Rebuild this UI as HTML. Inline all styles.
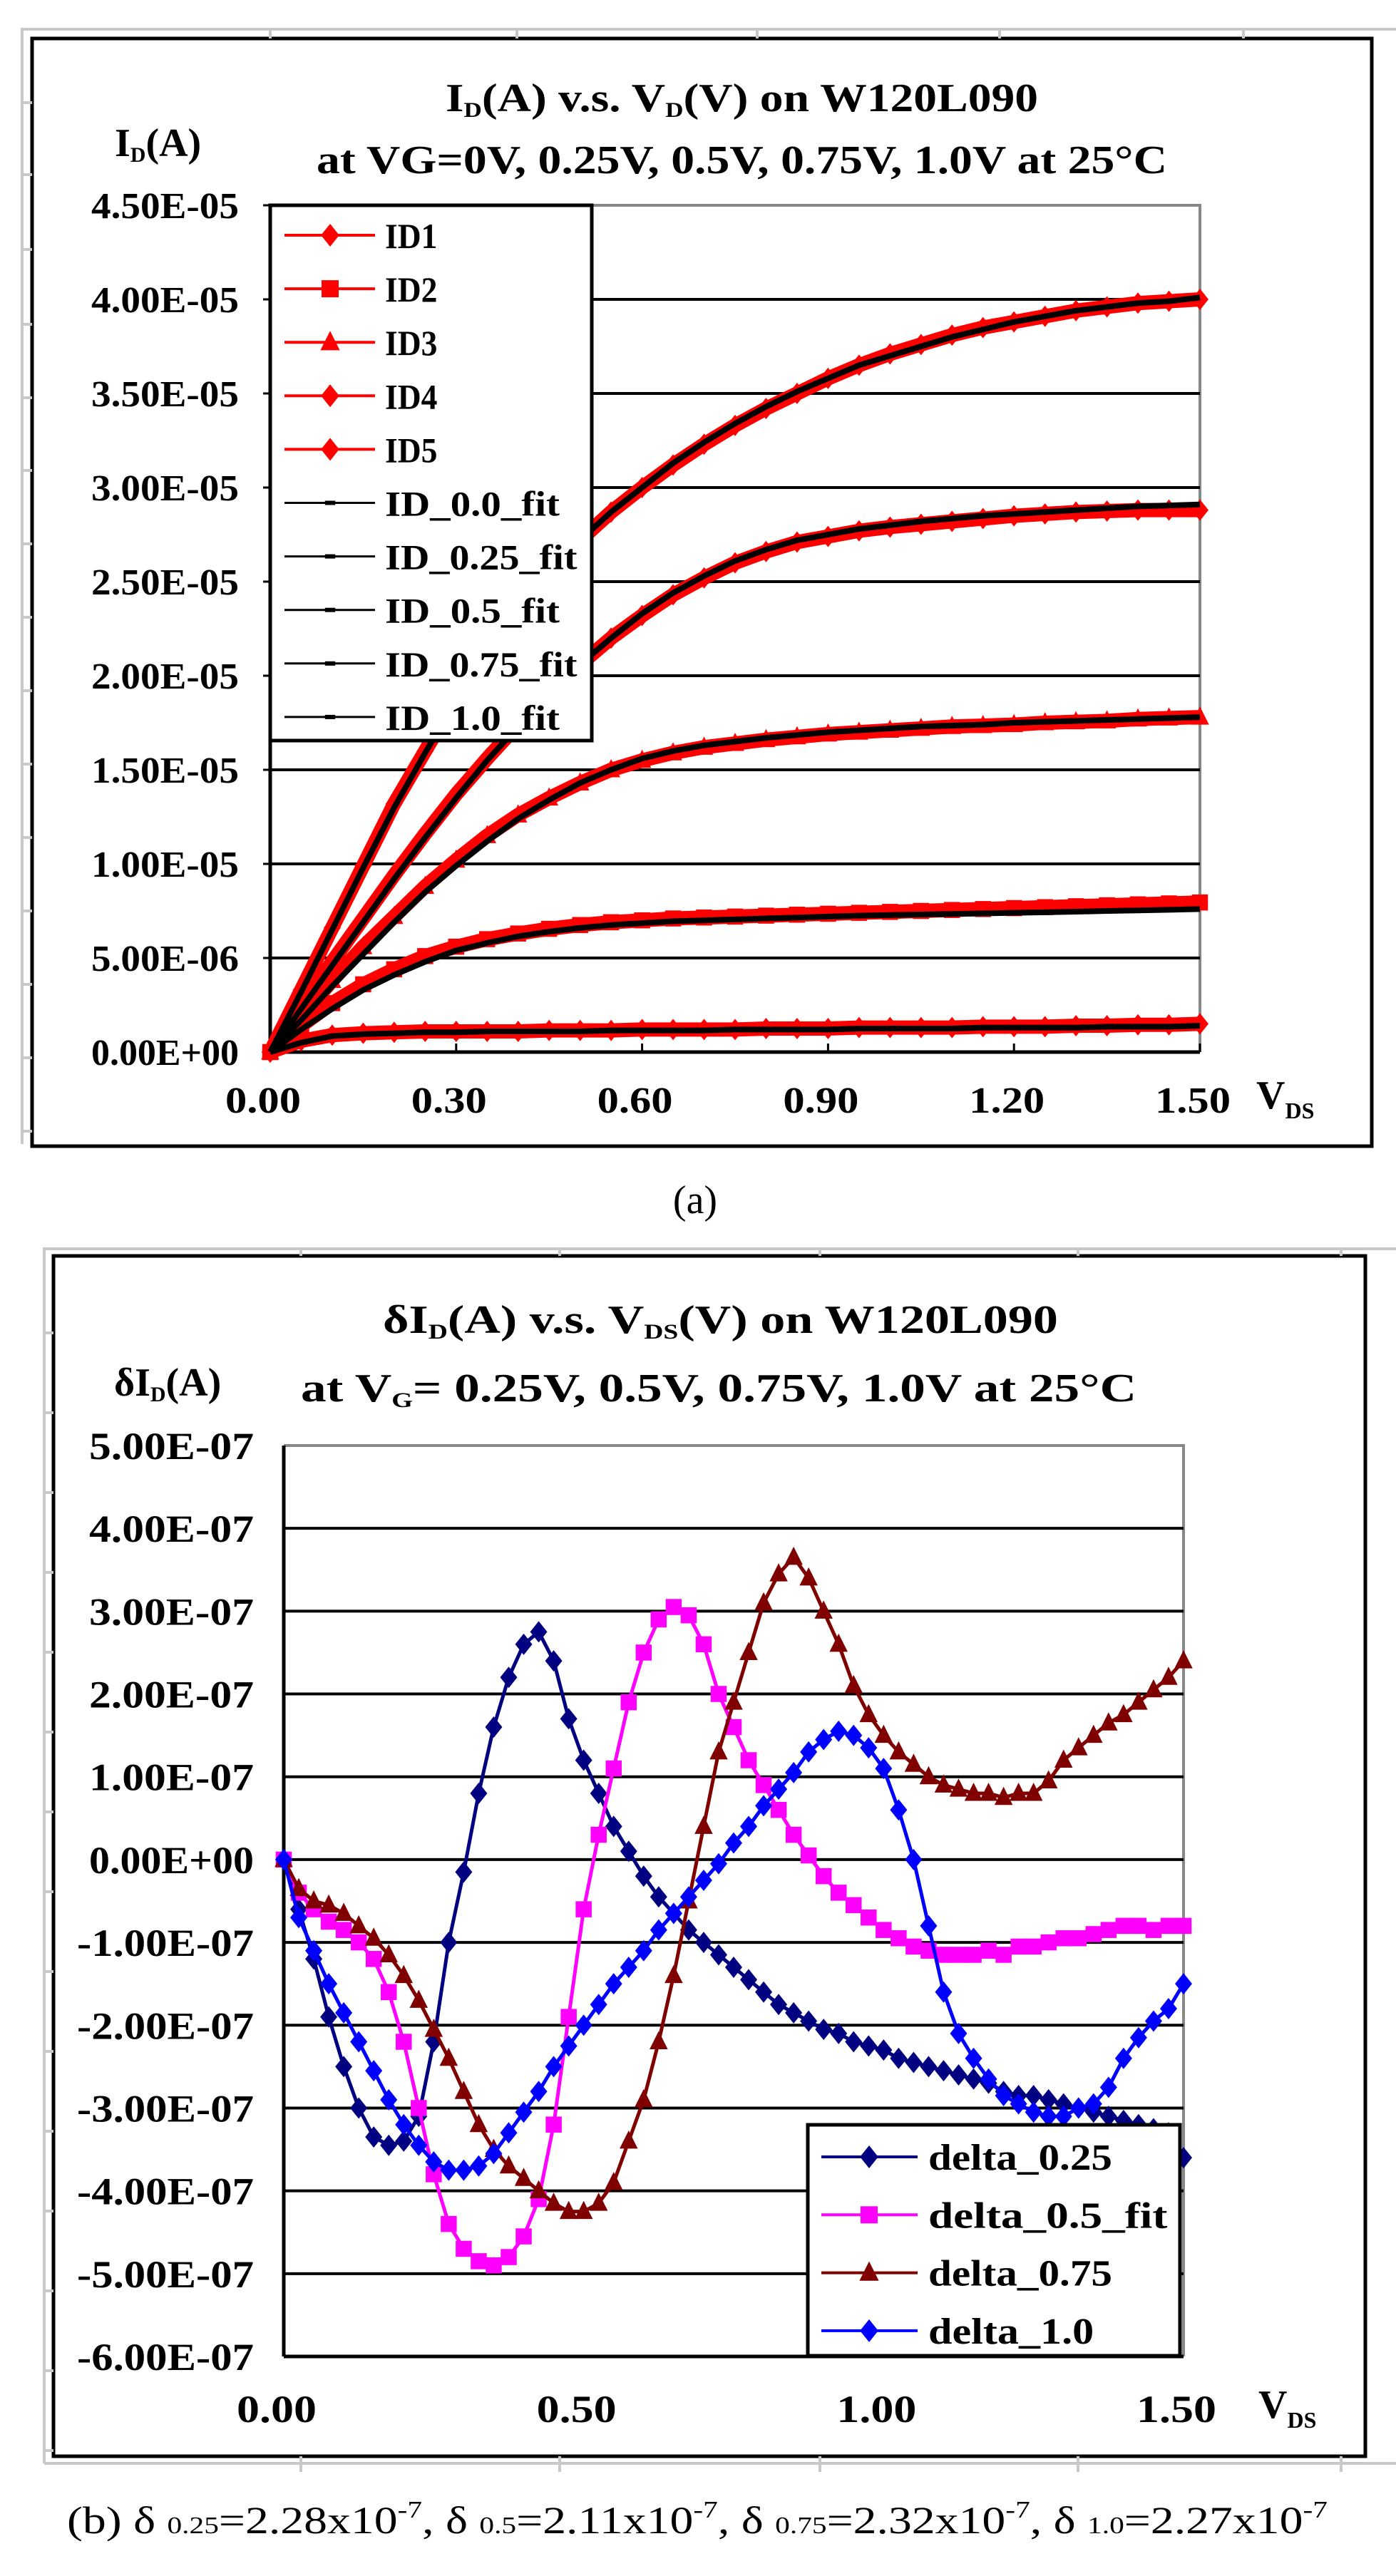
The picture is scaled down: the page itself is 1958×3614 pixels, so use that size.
<!DOCTYPE html>
<html><head><meta charset="utf-8"><style>
html,body{margin:0;padding:0;background:#fff}
svg{display:block}
text{font-family:"Liberation Serif",serif}
.b{font-weight:bold}
</style></head><body>
<svg id="s" width="1958" height="3614" viewBox="0 0 1958 3614" xmlns="http://www.w3.org/2000/svg">
<g id="frames">
<path d="M31 1605 V41 H1958" fill="none" stroke="#c8c8c8" stroke-width="4"/>
<rect x="45" y="54" width="1879" height="1554" fill="#fff" stroke="#000" stroke-width="5"/>
<path d="M62 3456 V1752 H1958 M62 3456 H1958" fill="none" stroke="#c8c8c8" stroke-width="4"/>
<rect x="75" y="1762" width="1840" height="1684" fill="#fff" stroke="#000" stroke-width="5"/>
</g>
<g id="ga"></g>
<g id="gb"></g>
<text x="975" y="1702" font-size="56" text-anchor="middle">(a)</text>
<text x="94" y="3554" font-size="54" textLength="1768" lengthAdjust="spacingAndGlyphs">(b) δ <tspan font-size="34">0.25</tspan>=2.28x10<tspan font-size="34" dy="-22">-7</tspan><tspan dy="22">, δ </tspan><tspan font-size="34">0.5</tspan>=2.11x10<tspan font-size="34" dy="-22">-7</tspan><tspan dy="22">, δ </tspan><tspan font-size="34">0.75</tspan>=2.32x10<tspan font-size="34" dy="-22">-7</tspan><tspan dy="22">, δ </tspan><tspan font-size="34">1.0</tspan>=2.27x10<tspan font-size="34" dy="-22">-7</tspan></text>
</svg>
<script>
// ---------- Chart A data (µA) at VDS = 0..1.5 step 0.05 ----------
const vA = [0,0.05,0.1,0.15,0.2,0.25,0.3,0.35,0.4,0.45,0.5,0.55,0.6,0.65,0.7,0.75,0.8,0.85,0.9,0.95,1.0,1.05,1.1,1.15,1.2,1.25,1.3,1.35,1.4,1.45,1.5];
const id1 = [0,0.6,0.9,1.0,1.05,1.1,1.1,1.1,1.1,1.15,1.15,1.15,1.2,1.2,1.2,1.2,1.25,1.25,1.25,1.3,1.3,1.3,1.3,1.35,1.35,1.35,1.4,1.4,1.45,1.45,1.5];
const id2 = [0,1.4,2.6,3.6,4.4,5.1,5.6,6.0,6.3,6.55,6.75,6.9,7.0,7.1,7.15,7.2,7.25,7.3,7.35,7.4,7.45,7.5,7.55,7.6,7.65,7.7,7.75,7.8,7.85,7.9,7.95];
const id3 = [0,1.9,3.8,5.6,7.2,8.8,10.2,11.5,12.6,13.5,14.3,15.0,15.5,15.9,16.2,16.4,16.6,16.75,16.9,17.0,17.1,17.2,17.3,17.35,17.4,17.5,17.55,17.6,17.7,17.75,17.8];
const id4 = [0,2.4,4.8,7.1,9.4,11.6,13.7,15.6,17.4,19.1,20.6,22.0,23.2,24.3,25.2,26.0,26.6,27.1,27.4,27.7,27.9,28.05,28.2,28.35,28.5,28.6,28.7,28.75,28.8,28.8,28.8];
const id5 = [0,3.3,6.6,9.9,13.2,16.0,18.8,21.3,23.6,25.6,27.2,28.7,30.0,31.2,32.3,33.3,34.2,35.0,35.8,36.5,37.1,37.6,38.1,38.5,38.8,39.1,39.4,39.6,39.8,39.9,40.0];
const fit0 = [0,0.5,0.85,0.95,1.0,1.05,1.05,1.1,1.1,1.1,1.1,1.15,1.15,1.15,1.15,1.2,1.2,1.2,1.2,1.25,1.25,1.25,1.25,1.3,1.3,1.3,1.3,1.35,1.35,1.35,1.4];
const fit25 = [0,1.2,2.3,3.3,4.1,4.8,5.4,5.8,6.15,6.4,6.6,6.75,6.85,6.95,7.0,7.05,7.1,7.15,7.2,7.25,7.28,7.31,7.34,7.37,7.4,7.43,7.46,7.5,7.53,7.56,7.6];
const fit5 = [0,1.7,3.5,5.2,6.9,8.5,9.9,11.2,12.4,13.4,14.3,15.0,15.6,16.0,16.3,16.5,16.7,16.85,17.0,17.1,17.2,17.3,17.35,17.4,17.5,17.55,17.6,17.65,17.7,17.75,17.8];
const fit75 = [0,2.3,4.6,6.9,9.2,11.4,13.5,15.5,17.3,19.0,20.6,22.0,23.3,24.4,25.3,26.1,26.7,27.2,27.5,27.8,28.0,28.2,28.35,28.5,28.6,28.7,28.8,28.9,29.0,29.05,29.1];
const fit10 = [0,3.2,6.5,9.8,13.0,15.9,18.7,21.2,23.5,25.5,27.2,28.7,30.0,31.3,32.4,33.4,34.3,35.1,35.8,36.5,37.0,37.5,38.0,38.4,38.8,39.1,39.4,39.6,39.8,39.9,40.1];
const yTicksA = ["0.00E+00","5.00E-06","1.00E-05","1.50E-05","2.00E-05","2.50E-05","3.00E-05","3.50E-05","4.00E-05","4.50E-05"];
const xTicksA = ["0.00","0.30","0.60","0.90","1.20","1.50"];
const legendA = ["ID1","ID2","ID3","ID4","ID5","ID_0.0_fit","ID_0.25_fit","ID_0.5_fit","ID_0.75_fit","ID_1.0_fit"];

// ---------- Chart B data (×1e-7 A) at VDS = 0..1.5 step 0.025 ----------
const vB = [0,0.025,0.05,0.075,0.1,0.125,0.15,0.175,0.2,0.225,0.25,0.275,0.3,0.325,0.35,0.375,0.4,0.425,0.45,0.475,0.5,0.525,0.55,0.575,0.6,0.625,0.65,0.675,0.7,0.725,0.75,0.775,0.8,0.825,0.85,0.875,0.9,0.925,0.95,0.975,1.0,1.025,1.05,1.075,1.1,1.125,1.15,1.175,1.2,1.225,1.25,1.275,1.3,1.325,1.35,1.375,1.4,1.425,1.45,1.475,1.5];
const d025 = [0,-0.6,-1.2,-1.9,-2.5,-3.0,-3.35,-3.45,-3.4,-3.1,-2.2,-1.0,-0.15,0.8,1.6,2.2,2.6,2.75,2.4,1.7,1.2,0.8,0.4,0.1,-0.2,-0.45,-0.65,-0.85,-1.0,-1.15,-1.3,-1.45,-1.6,-1.75,-1.85,-1.95,-2.05,-2.1,-2.2,-2.25,-2.3,-2.4,-2.45,-2.5,-2.55,-2.6,-2.65,-2.7,-2.8,-2.85,-2.85,-2.9,-2.95,-3.0,-3.05,-3.1,-3.15,-3.2,-3.25,-3.3,-3.6];
const d05 = [0,-0.4,-0.6,-0.75,-0.85,-1.0,-1.2,-1.6,-2.2,-3.0,-3.8,-4.4,-4.7,-4.85,-4.9,-4.8,-4.55,-4.1,-3.2,-1.9,-0.6,0.3,1.1,1.9,2.5,2.9,3.05,2.95,2.6,2.0,1.6,1.2,0.9,0.6,0.3,0.05,-0.2,-0.4,-0.55,-0.7,-0.85,-0.95,-1.05,-1.1,-1.15,-1.15,-1.15,-1.1,-1.15,-1.05,-1.05,-1.0,-0.95,-0.95,-0.9,-0.85,-0.8,-0.8,-0.85,-0.8,-0.8];
const d075 = [0,-0.35,-0.5,-0.55,-0.65,-0.8,-0.95,-1.15,-1.4,-1.7,-2.05,-2.4,-2.8,-3.2,-3.5,-3.7,-3.85,-4.0,-4.15,-4.25,-4.25,-4.15,-3.9,-3.4,-2.9,-2.2,-1.4,-0.5,0.4,1.3,1.9,2.5,3.1,3.45,3.65,3.4,3.0,2.6,2.1,1.75,1.5,1.3,1.15,1.0,0.9,0.85,0.8,0.8,0.75,0.8,0.8,0.95,1.2,1.35,1.5,1.65,1.75,1.9,2.05,2.2,2.4];
const d10 = [0,-0.7,-1.1,-1.5,-1.85,-2.2,-2.55,-2.9,-3.2,-3.45,-3.65,-3.75,-3.75,-3.7,-3.55,-3.3,-3.05,-2.8,-2.5,-2.25,-2.0,-1.75,-1.5,-1.3,-1.1,-0.85,-0.65,-0.45,-0.25,-0.05,0.2,0.4,0.65,0.85,1.05,1.3,1.45,1.55,1.5,1.35,1.1,0.6,0.0,-0.8,-1.6,-2.1,-2.4,-2.65,-2.85,-2.95,-3.05,-3.1,-3.1,-3.0,-2.95,-2.75,-2.4,-2.15,-1.95,-1.8,-1.5];
const yTicksB = ["5.00E-07","4.00E-07","3.00E-07","2.00E-07","1.00E-07","0.00E+00","-1.00E-07","-2.00E-07","-3.00E-07","-4.00E-07","-5.00E-07","-6.00E-07"];
const yTickValsB = [5,4,3,2,1,0,-1,-2,-3,-4,-5,-6];
const xTicksB = ["0.00","0.50","1.00","1.50"];
const legendB = ["delta_0.25","delta_0.5_fit","delta_0.75","delta_1.0"];

const NS = "http://www.w3.org/2000/svg";
function mk(parent, tag, attrs, txt) {
  const e = document.createElementNS(NS, tag);
  for (const k in attrs) e.setAttribute(k, attrs[k]);
  if (txt !== undefined) e.textContent = txt;
  parent.appendChild(e);
  return e;
}
function marker(g, type, x, y, s, color) {
  let e;
  if (type === "diamond") e = mk(g, "polygon", {points: `${x},${y-s} ${x+s*0.8},${y} ${x},${y+s} ${x-s*0.8},${y}`, fill: color});
  else if (type === "square") e = mk(g, "rect", {x: x-s*0.75, y: y-s*0.75, width: s*1.5, height: s*1.5, fill: color});
  else if (type === "triangle") e = mk(g, "polygon", {points: `${x},${y-s} ${x+s*0.85},${y+s*0.7} ${x-s*0.85},${y+s*0.7}`, fill: color});
  else e = mk(g, "rect", {x: x-s*0.6, y: y-s*0.25, width: s*1.2, height: s*0.5, fill: color});
  return e;
}

// ================= Chart A =================
(function(){
  const g = document.getElementById("ga");
  const L = 379, R = 1683, T = 288, B = 1476;
  const xs = v => L + v / 1.5 * (R - L);
  const ys = u => B - u / 45 * (B - T);
  mk(g, "path", {d: `M${L} ${T} H${R} V${B}`, fill: "none", stroke: "#888", "stroke-width": 4});
  for (let i = 1; i <= 8; i++) {
    const gl = mk(g, "line", {x1: L, x2: R, y1: ys(i*5), y2: ys(i*5), stroke: "#000", "stroke-width": 4});
    
    
  }
  mk(g, "line", {x1: L, x2: L, y1: T, y2: B+2, stroke: "#000", "stroke-width": 5});
  mk(g, "line", {x1: L, x2: R, y1: B, y2: B, stroke: "#000", "stroke-width": 5});
  for (let i = 0; i < yTicksA.length; i++) {
    const t = mk(g, "text", {x: 335, y: ys(i*5)+18, "font-size": 52, "font-weight": "bold", "text-anchor": "end", textLength: 207, lengthAdjust: "spacingAndGlyphs"}, yTicksA[i]);
    
    
    mk(g, "line", {x1: L-10, x2: L, y1: ys(i*5), y2: ys(i*5), stroke: "#000", "stroke-width": 3});
  }
  for (let i = 0; i < xTicksA.length; i++) {
    const v = i * 0.3;
    const t = mk(g, "text", {x: xs(v)-10, y: 1561, "font-size": 52, "font-weight": "bold", "text-anchor": "middle", textLength: 106, lengthAdjust: "spacingAndGlyphs"}, xTicksA[i]);
    
    
    mk(g, "line", {x1: xs(v), x2: xs(v), y1: B-12, y2: B, stroke: "#000", "stroke-width": 3});
  }
  const meas = [id1, id2, id3, id4, id5];
  const mtypes = ["diamond","square","triangle","diamond","diamond"];
  meas.forEach((arr, k) => {
    const pts = arr.map((u, i) => `${xs(vA[i])},${ys(u)}`).join(" ");
    const pl = mk(g, "polyline", {points: pts, fill: "none", stroke: "#ff0000", "stroke-width": 20, "stroke-linejoin": "round"});
    
    
    arr.forEach((u, i) => { marker(g, mtypes[k], xs(vA[i]), ys(u), 15, "#ff0000"); });
  });
  const fits = [fit0, fit25, fit5, fit75, fit10];
  fits.forEach((arr, k) => {
    const pts = arr.map((u, i) => `${xs(vA[i])},${ys(u)}`).join(" ");
    const pl = mk(g, "polyline", {points: pts, fill: "none", stroke: "#000", "stroke-width": 8, "stroke-linejoin": "round"});
    
    
  });
  const lg = mk(g, "g", {});
  
  
  mk(lg, "rect", {x: L, y: T, width: 451, height: 751, fill: "#fff", stroke: "#000", "stroke-width": 5});
  legendA.forEach((name, i) => {
    const y = 330 + i * 75.1;
    const red = i < 5;
    const col = red ? "#ff0000" : "#000";
    const en = mk(lg, "g", {});
    
    
    mk(en, "line", {x1: 399, x2: 526, y1: y, y2: y, stroke: col, "stroke-width": red ? 4 : 3});
    if (red) marker(en, mtypes[i], 463, y, 16, col); else marker(en, "dash", 463, y, 12, col);
    mk(en, "text", {x: 540, y: y+18, "font-size": 50, "font-weight": "bold", textLength: (name.length*24.5), lengthAdjust: "spacingAndGlyphs"}, name);
  });
  const t1 = mk(g, "text", {x: 625, y: 156, "font-size": 56, "font-weight": "bold", textLength: 831, lengthAdjust: "spacingAndGlyphs"});
  
  
  t1.innerHTML = 'I<tspan font-size="30" dy="8">D</tspan><tspan dy="-8">(A) v.s. V</tspan><tspan font-size="30" dy="8">D</tspan><tspan dy="-8">(V) on W120L090</tspan>';
  const t2 = mk(g, "text", {x: 444, y: 243, "font-size": 56, "font-weight": "bold", textLength: 1193, lengthAdjust: "spacingAndGlyphs"}, "at VG=0V, 0.25V, 0.5V, 0.75V, 1.0V at 25°C");
  
  
  const yl = mk(g, "text", {x: 161, y: 219, "font-size": 56, "font-weight": "bold"});
  
  
  yl.innerHTML = 'I<tspan font-size="30" dy="8">D</tspan><tspan dy="-8">(A)</tspan>';
  const xl = mk(g, "text", {x: 1762, y: 1555, "font-size": 56, "font-weight": "bold"});
  
  
  xl.innerHTML = 'V<tspan font-size="32" dy="14">DS</tspan>';
})();

// ================= Chart B =================
(function(){
  const g = document.getElementById("gb");
  const L = 398, R = 1660, T = 2028, B = 3306;
  const xs = v => L + v / 1.5 * (R - L);
  const ys = u => T + (5 - u) / 11 * (B - T);
  mk(g, "path", {d: `M${L} ${T} H${R} V${B}`, fill: "none", stroke: "#888", "stroke-width": 4});
  for (let i = 1; i < yTickValsB.length - 1; i++) {
    const gl = mk(g, "line", {x1: L, x2: R, y1: ys(yTickValsB[i]), y2: ys(yTickValsB[i]), stroke: "#000", "stroke-width": 4});
    
    
  }
  mk(g, "line", {x1: L, x2: L, y1: T, y2: B, stroke: "#000", "stroke-width": 5});
  mk(g, "line", {x1: L, x2: R, y1: B, y2: B, stroke: "#000", "stroke-width": 5});
  for (let i = 0; i < yTicksB.length; i++) {
    const neg = yTicksB[i][0] === "-";
    const t = mk(g, "text", {x: 356, y: ys(yTickValsB[i])+19, "font-size": 54, "font-weight": "bold", "text-anchor": "end", textLength: neg ? 248 : 231, lengthAdjust: "spacingAndGlyphs"}, yTicksB[i]);
    
    
  }
  for (let i = 0; i < xTicksB.length; i++) {
    const v = i * 0.5;
    const t = mk(g, "text", {x: xs(v)-10, y: 3398, "font-size": 54, "font-weight": "bold", "text-anchor": "middle", textLength: 112, lengthAdjust: "spacingAndGlyphs"}, xTicksB[i]);
    
    
  }
  const series = [d025, d05, d075, d10];
  const cols = ["#000080", "#ff00ff", "#800000", "#0000ff"];
  const types = ["diamond", "square", "triangle", "diamond"];
  series.forEach((arr, k) => {
    const sg = mk(g, "g", {});
    
    
    mk(sg, "polyline", {points: arr.map((u, i) => `${xs(vB[i])},${ys(u)}`).join(" "), fill: "none", stroke: cols[k], "stroke-width": 5});
    arr.forEach((u, i) => { marker(sg, types[k], xs(vB[i]), ys(u), 15, cols[k]); });
  });
  const lg = mk(g, "g", {});
  
  
  mk(lg, "rect", {x: 1133, y: 2981, width: 522, height: 324, fill: "#fff", stroke: "#000", "stroke-width": 5});
  legendB.forEach((name, i) => {
    const y = 3026 + i * 81.3;
    const en = mk(lg, "g", {});
    
    
    mk(en, "line", {x1: 1152, x2: 1287, y1: y, y2: y, stroke: cols[i], "stroke-width": 4});
    marker(en, types[i], 1219, y, 16, cols[i]);
    mk(en, "text", {x: 1302, y: y+18, "font-size": 52, "font-weight": "bold", textLength: name.length*25.8, lengthAdjust: "spacingAndGlyphs"}, name);
  });
  const t1 = mk(g, "text", {x: 537, y: 1870, "font-size": 56, "font-weight": "bold", textLength: 947, lengthAdjust: "spacingAndGlyphs"});
  
  
  t1.innerHTML = 'δI<tspan font-size="30" dy="8">D</tspan><tspan dy="-8">(A) v.s. V</tspan><tspan font-size="30" dy="8">DS</tspan><tspan dy="-8">(V) on W120L090</tspan>';
  const t2 = mk(g, "text", {x: 422, y: 1966, "font-size": 56, "font-weight": "bold", textLength: 1172, lengthAdjust: "spacingAndGlyphs"});
  
  
  t2.innerHTML = 'at V<tspan font-size="30" dy="8">G</tspan><tspan dy="-8">= 0.25V, 0.5V, 0.75V, 1.0V at 25°C</tspan>';
  const yl = mk(g, "text", {x: 160, y: 1958, "font-size": 56, "font-weight": "bold"});
  
  
  yl.innerHTML = 'δI<tspan font-size="30" dy="8">D</tspan><tspan dy="-8">(A)</tspan>';
  const xl = mk(g, "text", {x: 1765, y: 3392, "font-size": 56, "font-weight": "bold"});
  
  
  xl.innerHTML = 'V<tspan font-size="32" dy="14">DS</tspan>';
})();

(function(){
  const g = document.getElementById("frames");
  [379,725,1062,1402,1744].forEach(x => mk(g, "line", {x1: x, x2: x, y1: 41, y2: 54, stroke: "#c8c8c8", "stroke-width": 4}));
  [144,245,350,455,558,660,763,866,969,1072,1175,1278,1381,1484,1587].forEach(y => mk(g, "line", {x1: 31, x2: 45, y1: y, y2: y, stroke: "#c8c8c8", "stroke-width": 4}));
  [422,785,1150,1512,1881].forEach(x => {
    mk(g, "line", {x1: x, x2: x, y1: 1752, y2: 1762, stroke: "#c8c8c8", "stroke-width": 4});
    mk(g, "line", {x1: x, x2: x, y1: 3446, y2: 3468, stroke: "#c8c8c8", "stroke-width": 4});
  });
  for (let y = 1870; y < 3450; y += 112) mk(g, "line", {x1: 62, x2: 75, y1: y, y2: y, stroke: "#c8c8c8", "stroke-width": 4});
})();
</script>
</body></html>
